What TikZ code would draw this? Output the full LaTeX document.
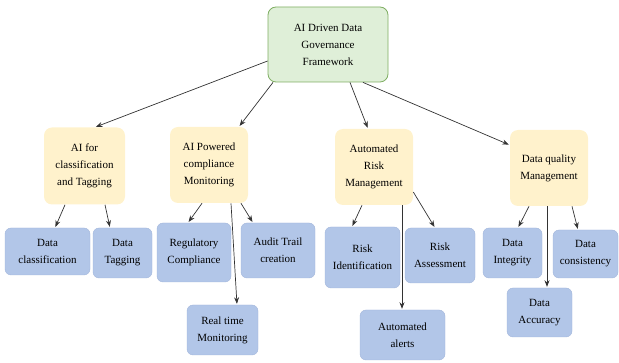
\documentclass[tikz,border=0pt]{standalone}
\usepackage{fontspec}
\setmainfont{Liberation Serif}
\usepackage{xcolor}
\usepackage{tikz}
\usetikzlibrary{arrows.meta,positioning}

\definecolor{rootfill}{HTML}{DFEFD8}
\definecolor{rootdraw}{HTML}{7FAE62}
\definecolor{areafill}{HTML}{FFF2CC}
\definecolor{taskfill}{HTML}{B2C6E8}
\definecolor{taskdraw}{HTML}{A2B6DA}

\begin{document}
\begin{tikzpicture}[->,>={Stealth[length=6.5pt,width=5pt]},shorten >=1pt,semithick,x=1pt,y=-1pt,
  font=\fontsize{11}{17}\selectfont]

   \tikzstyle{root} =[rectangle,rounded corners=8pt,fill=rootfill,draw=rootdraw,thick,align=center,inner sep=2pt]
   \tikzstyle{area} =[rectangle,rounded corners=8pt,fill=areafill,draw=none,align=center,inner sep=2pt]
   \tikzstyle{task} =[rectangle,rounded corners=6pt,fill=taskfill,draw=taskdraw,thin,align=center,inner sep=2pt]
   \tikzstyle{link} =[draw=black!80,line width=0.7pt]

   % page frame
   \path[use as bounding box] (0,0) rectangle (619,363);

    \node[root,minimum width=120pt,minimum height=75pt] at (328,44.5) (gov)
      {AI Driven Data\\Governance\\Framework};

    \node[area,minimum width=81pt,minimum height=77pt] at (84.5,166) (tagging)
      {AI for\\classification\\and Tagging};
    \node[area,minimum width=78pt,minimum height=76pt] at (209,165) (compliance)
      {AI Powered\\compliance\\Monitoring};
    \node[area,minimum width=78pt,minimum height=76pt] at (374,167) (risk)
      {Automated\\Risk\\Management};
    \node[area,minimum width=78pt,minimum height=76pt] at (549,168) (quality)
      {Data quality\\Management};

    \node[task,minimum width=85pt,minimum height=47pt] at (47.5,251.5) (dclass) {Data\\classification};
    \node[task,minimum width=59pt,minimum height=50pt] at (122.5,253) (dtag) {Data\\Tagging};
    \node[task,minimum width=74pt,minimum height=59pt] at (194,252.5) (regcomp) {Regulatory\\Compliance};
    \node[task,minimum width=74pt,minimum height=55pt] at (278,250.5) (audit) {Audit Trail\\creation};
    \node[task,minimum width=71pt,minimum height=50pt] at (222.5,330) (realtime) {Real time\\Monitoring};

    \node[task,minimum width=75pt,minimum height=61pt] at (362.5,257.5) (riskid) {Risk\\Identification};
    \node[task,minimum width=70pt,minimum height=55pt] at (440,255.5) (riskass) {Risk\\Assessment};
    \node[task,minimum width=85pt,minimum height=50pt] at (402.5,335) (alerts) {Automated\\alerts};

    \node[task,minimum width=59pt,minimum height=50pt] at (512.5,253) (integrity) {Data\\Integrity};
    \node[task,minimum width=65pt,minimum height=48pt] at (585.5,254) (consistency) {Data\\consistency};
    \node[task,minimum width=65pt,minimum height=49pt] at (539.5,312.5) (accuracy) {Data\\Accuracy};

    % framework to areas
    \draw[link] ([yshift=-16.5pt]gov.west) -- ([xshift=10.5pt]tagging.north);
    \draw[link] ([xshift=-55pt]gov.south) -- ([xshift=30pt]compliance.north);
    \draw[link] ([xshift=22pt]gov.south) -- ([xshift=-6pt]risk.north);
    \draw[link] ([xshift=35pt]gov.south) -- ([yshift=23pt]quality.west);

    % areas to tasks
    \draw[link] ([xshift=-19.5pt]tagging.south) -- ([xshift=7.5pt]dclass.north);
    \draw[link] ([xshift=20.5pt]tagging.south) -- ([xshift=-12.5pt]dtag.north);

    \draw[link] ([xshift=-7pt]compliance.south) -- ([xshift=-6pt]regcomp.north);
    \draw[link] ([xshift=22pt]compliance.south) -- ([xshift=14.5pt]realtime.north);
    \draw[link] ([xshift=32pt]compliance.south) -- ([xshift=-25pt]audit.north);

    \draw[link] ([xshift=-12pt]risk.south) -- ([xshift=-10.5pt]riskid.north);
    \draw[link] ([xshift=28pt]risk.south) -- ([xshift=-0.5pt]alerts.north);
    \draw[link] ([yshift=-25pt]risk.east) -- ([xshift=-5pt]riskass.north);

    \draw[link] ([xshift=-20pt]quality.south) -- ([xshift=5.5pt]integrity.north);
    \draw[link] ([xshift=-2pt]quality.south) -- ([xshift=7.5pt]accuracy.north);
    \draw[link] ([xshift=23pt]quality.south) -- ([xshift=-7.5pt]consistency.north);

\end{tikzpicture}
\end{document}
